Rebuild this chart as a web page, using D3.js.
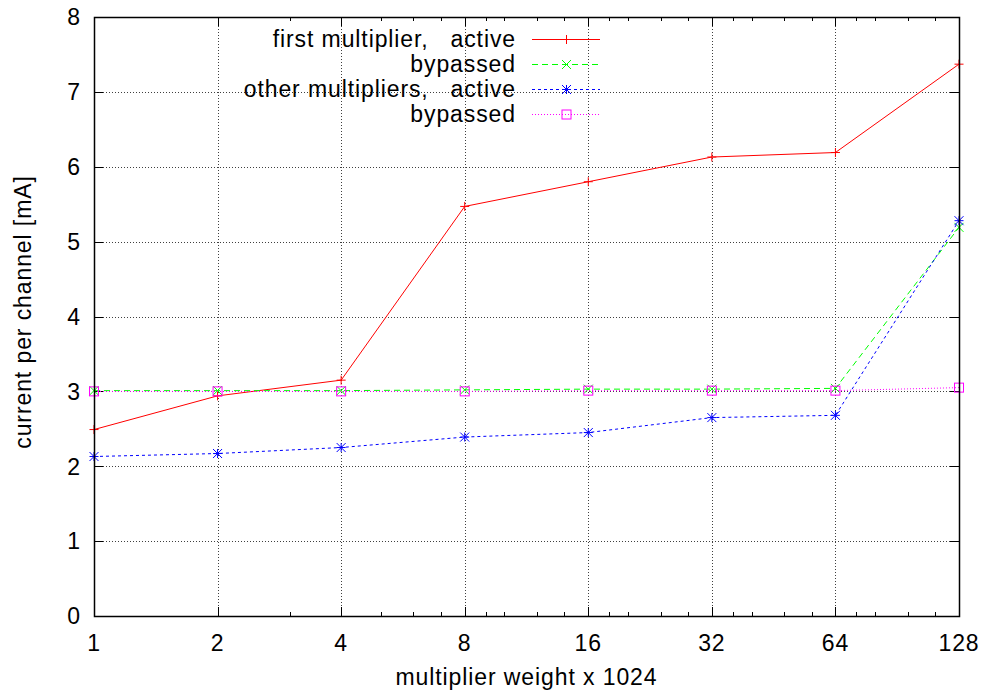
<!DOCTYPE html>
<html>
<head>
<meta charset="utf-8">
<script src="https://cdn.jsdelivr.net/npm/d3@7"></script>
<style>
  html, body { margin: 0; padding: 0; background: #fff; }
  svg text { font-family: "Liberation Sans", Arial, sans-serif; fill: #000; white-space: pre; letter-spacing: 0.9px; }
</style>
</head>
<body>
<svg id="chart" width="988" height="694"></svg>
<script>
// Multiplier weight (x 1024)
const weights = [1, 2, 4, 8, 16, 32, 64, 128];
// Current per channel [mA]
const firstActive    = [2.49, 2.94, 3.15, 5.47, 5.80, 6.13, 6.19, 7.37];
const firstBypassed  = [3.01, 3.01, 3.01, 3.02, 3.03, 3.03, 3.04, 5.19];
const otherActive    = [2.13, 2.17, 2.25, 2.39, 2.45, 2.65, 2.68, 5.28];
const otherBypassed  = [3.00, 3.00, 3.00, 3.00, 3.01, 3.01, 3.01, 3.05];
const yTicks = [0, 1, 2, 3, 4, 5, 6, 7, 8];
const seriesNames = ["first multiplier,   active", "bypassed", "other multipliers,   active", "bypassed"];

const svg = d3.select("#chart");
const L = 94, R = 959, T = 17, B = 616;
const FS = 23;

const x = d3.scaleLog().base(2).domain([1, 128]).range([L, R]);
const y = d3.scaleLinear().domain([0, 8]).range([B, T]);

// minor ticks at a*9/8, a*5/4, a*3/2, a*7/4 within each octave, integers only
const minor = [];
weights.slice(0, -1).forEach(a => {
  [9/8, 5/4, 3/2, 7/4].forEach(f => { const v = a * f; if (Number.isInteger(v)) minor.push(v); });
});

// grid
const grid = svg.append("g").attr("stroke", "#000").attr("stroke-width", 1)
  .attr("stroke-dasharray", "1,2").attr("fill", "none").attr("opacity", 0.75);
weights.slice(1, -1).forEach(w => {
  grid.append("line").attr("x1", Math.round(x(w)) + 0.5).attr("x2", Math.round(x(w)) + 0.5)
    .attr("y1", T).attr("y2", B);
});
yTicks.slice(1, -1).forEach(v => {
  grid.append("line").attr("x1", L).attr("x2", R)
    .attr("y1", Math.round(y(v)) + 0.5).attr("y2", Math.round(y(v)) + 0.5);
});

// axes with ticks on all four sides
const ax = svg.append("g").attr("stroke", "#000").attr("stroke-width", 1);
const major = 9, mnr = 4;
weights.forEach(w => {
  const px = Math.round(x(w)) + 0.5;
  ax.append("line").attr("x1", px).attr("x2", px).attr("y1", B).attr("y2", B - major);
  ax.append("line").attr("x1", px).attr("x2", px).attr("y1", T).attr("y2", T + major);
});
minor.forEach(w => {
  const px = Math.round(x(w)) + 0.5;
  ax.append("line").attr("x1", px).attr("x2", px).attr("y1", B).attr("y2", B - mnr);
  ax.append("line").attr("x1", px).attr("x2", px).attr("y1", T).attr("y2", T + mnr);
});
yTicks.forEach(v => {
  const py = Math.round(y(v)) + 0.5;
  ax.append("line").attr("x1", L).attr("x2", L + major).attr("y1", py).attr("y2", py);
  ax.append("line").attr("x1", R).attr("x2", R - major).attr("y1", py).attr("y2", py);
});

// tick labels
svg.append("g").selectAll("text").data(weights).join("text")
  .attr("x", d => x(d)).attr("y", 651).attr("text-anchor", "middle")
  .attr("font-size", FS).text(d => d);
svg.append("g").selectAll("text").data(yTicks).join("text")
  .attr("x", 81).attr("y", d => y(d)).attr("dy", "0.36em").attr("text-anchor", "end")
  .attr("font-size", FS).text(d => d);

// axis titles
svg.append("text").attr("x", (L + R) / 2).attr("y", 685).attr("text-anchor", "middle")
  .attr("font-size", FS).text("multiplier weight x 1024");
svg.append("text").attr("transform", "translate(31,312) rotate(-90)")
  .attr("text-anchor", "middle").attr("font-size", FS).text("current per channel [mA]");

// series
const series = [
  { name: seriesNames[0], values: firstActive,   color: "#ff0000", dash: null,   mark: "plus" },
  { name: seriesNames[1], values: firstBypassed, color: "#00ff00", dash: "6,4",  mark: "cross" },
  { name: seriesNames[2], values: otherActive,   color: "#0000ff", dash: "3,3",  mark: "star" },
  { name: seriesNames[3], values: otherBypassed, color: "#ff00ff", dash: "1,2",  mark: "square" }
];

const line = d3.line().x(d => x(d[0])).y(d => y(d[1]));

function marker(g, kind, cx, cy, color) {
  const s = 4.5;
  const m = g.append("g").attr("stroke", color).attr("stroke-width", 1).attr("fill", "none");
  if (kind === "plus" || kind === "star") {
    m.append("line").attr("x1", cx - s).attr("x2", cx + s).attr("y1", cy).attr("y2", cy);
    m.append("line").attr("x1", cx).attr("x2", cx).attr("y1", cy - s).attr("y2", cy + s);
  }
  if (kind === "cross" || kind === "star") {
    m.append("line").attr("x1", cx - s).attr("x2", cx + s).attr("y1", cy - s).attr("y2", cy + s);
    m.append("line").attr("x1", cx - s).attr("x2", cx + s).attr("y1", cy + s).attr("y2", cy - s);
  }
  if (kind === "square") {
    m.append("rect").attr("x", cx - s).attr("y", cy - s).attr("width", 2 * s).attr("height", 2 * s);
  }
}

const plot = svg.append("g");
series.forEach(s => {
  const pts = weights.map((w, i) => [w, s.values[i]]);
  plot.append("path").attr("d", line(pts)).attr("fill", "none")
    .attr("stroke", s.color).attr("stroke-width", 1)
    .attr("stroke-dasharray", s.dash);
  pts.forEach(p => marker(plot, s.mark, x(p[0]), y(p[1]), s.color));
});

// legend
const legY = [39, 64, 89, 114];
series.forEach((s, i) => {
  svg.append("text").attr("x", 516).attr("y", legY[i]).attr("dy", "0.36em")
    .attr("text-anchor", "end").attr("font-size", FS).text(s.name);
  svg.append("line").attr("x1", 532).attr("x2", 600).attr("y1", legY[i] + 0.5).attr("y2", legY[i] + 0.5)
    .attr("stroke", s.color).attr("stroke-width", 1).attr("stroke-dasharray", s.dash);
  marker(svg, s.mark, 566.5, legY[i] + 0.5, s.color);
});

// frame
svg.append("rect").attr("x", L + 0.5).attr("y", T + 0.5).attr("width", R - L).attr("height", B - T)
  .attr("fill", "none").attr("stroke", "#000").attr("stroke-width", 1.5);
</script>
</body>
</html>
